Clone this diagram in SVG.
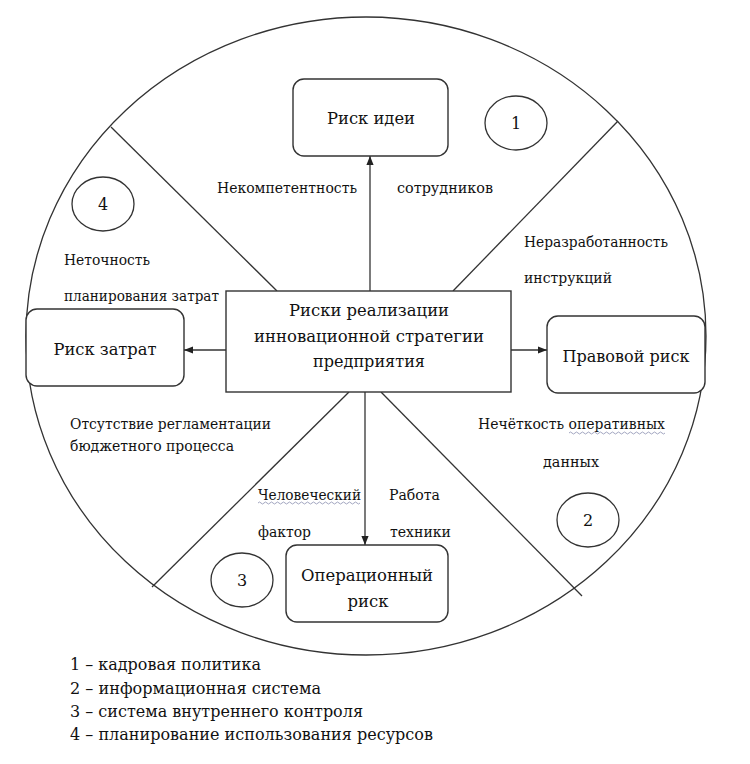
<svg xmlns="http://www.w3.org/2000/svg" width="750" height="764" viewBox="0 0 750 764">
<defs>
<marker id="ah" viewBox="0 0 10 10" refX="10" refY="5" markerWidth="9" markerHeight="9" markerUnits="userSpaceOnUse" orient="auto">
<path d="M0,1 L10,5 L0,9 Z" fill="#222"/>
</marker>
</defs>
<rect width="750" height="764" fill="#fff"/>
<g id="circle-frame" fill="none" stroke="#333" stroke-width="1.3">
<ellipse cx="366" cy="336" rx="340" ry="319"/>
<line x1="111" y1="127" x2="277" y2="291"/>
<line x1="618" y1="121" x2="453" y2="291"/>
<line x1="349" y1="392" x2="152" y2="587"/>
<line x1="381" y1="392" x2="582" y2="596"/>
</g>
<g id="connectors" fill="none" stroke="#333" stroke-width="1.3">
<line x1="370" y1="291" x2="370" y2="156" marker-end="url(#ah)"/>
<line x1="226" y1="350" x2="184" y2="350" marker-end="url(#ah)"/>
<line x1="511" y1="350" x2="547" y2="350" marker-end="url(#ah)"/>
<line x1="365" y1="392" x2="365" y2="545" marker-end="url(#ah)"/>
</g>
<g font-family="DejaVu Serif" fill="#111">
<g id="node-center">
<rect x="226" y="291" width="285" height="101" fill="#fff" stroke="#333" stroke-width="1.4"/>
<text font-size="17" text-anchor="middle" x="369" y="316" textLength="160" lengthAdjust="spacingAndGlyphs">Риски реализации</text>
<text font-size="17" text-anchor="middle" x="369" y="342" textLength="230" lengthAdjust="spacingAndGlyphs">инновационной стратегии</text>
<text font-size="17" text-anchor="middle" x="369" y="367" textLength="112" lengthAdjust="spacingAndGlyphs">предприятия</text>
</g>
<g id="node-idea">
<rect x="293" y="79" width="155" height="77" rx="11" fill="#fff" stroke="#333" stroke-width="1.4"/>
<text font-size="17" text-anchor="middle" x="371" y="124" textLength="88" lengthAdjust="spacingAndGlyphs">Риск идеи</text>
</g>
<g id="node-cost">
<rect x="26" y="309" width="158" height="77" rx="11" fill="#fff" stroke="#333" stroke-width="1.4"/>
<text font-size="17" text-anchor="middle" x="105" y="355" textLength="103" lengthAdjust="spacingAndGlyphs">Риск затрат</text>
</g>
<g id="node-legal">
<rect x="547" y="316" width="158" height="77" rx="11" fill="#fff" stroke="#333" stroke-width="1.4"/>
<text font-size="17" text-anchor="middle" x="626" y="362" textLength="127" lengthAdjust="spacingAndGlyphs">Правовой риск</text>
</g>
<g id="node-oper">
<rect x="286" y="545" width="162" height="77" rx="11" fill="#fff" stroke="#333" stroke-width="1.4"/>
<text font-size="17" text-anchor="middle" x="367" y="581" textLength="132" lengthAdjust="spacingAndGlyphs">Операционный</text>
<text font-size="17" text-anchor="middle" x="368" y="607" textLength="41" lengthAdjust="spacingAndGlyphs">риск</text>
</g>
<g id="num-1"><ellipse cx="516" cy="123" rx="31" ry="27" fill="none" stroke="#333" stroke-width="1.3"/><text font-size="16" text-anchor="middle" x="516" y="129">1</text></g>
<g id="num-2"><ellipse cx="588" cy="520" rx="31" ry="27" fill="none" stroke="#333" stroke-width="1.3"/><text font-size="16" text-anchor="middle" x="588" y="526">2</text></g>
<g id="num-3"><ellipse cx="242" cy="580" rx="31" ry="27" fill="none" stroke="#333" stroke-width="1.3"/><text font-size="16" text-anchor="middle" x="242" y="586">3</text></g>
<g id="num-4"><ellipse cx="103" cy="204" rx="31" ry="27" fill="none" stroke="#333" stroke-width="1.3"/><text font-size="16" text-anchor="middle" x="103" y="210">4</text></g>
<g id="labels" font-size="15" lengthAdjust="spacingAndGlyphs">
<text x="217" y="193" textLength="140" lengthAdjust="spacingAndGlyphs">Некомпетентность</text>
<text x="397" y="193" textLength="96" lengthAdjust="spacingAndGlyphs">сотрудников</text>
<text x="524" y="247" textLength="144" lengthAdjust="spacingAndGlyphs">Неразработанность</text>
<text x="524" y="283" textLength="88" lengthAdjust="spacingAndGlyphs">инструкций</text>
<text x="64" y="265" textLength="86" lengthAdjust="spacingAndGlyphs">Неточность</text>
<text x="64" y="301" textLength="155" lengthAdjust="spacingAndGlyphs">планирования затрат</text>
<text x="70" y="429" textLength="201" lengthAdjust="spacingAndGlyphs">Отсутствие регламентации</text>
<text x="70" y="451" textLength="164" lengthAdjust="spacingAndGlyphs">бюджетного процесса</text>
<text x="478" y="429" textLength="187" lengthAdjust="spacingAndGlyphs">Нечёткость оперативных</text>
<text x="543" y="467" textLength="56" lengthAdjust="spacingAndGlyphs">данных</text>
<text x="258" y="500" textLength="103" lengthAdjust="spacingAndGlyphs">Человеческий</text>
<text x="258" y="537" textLength="53" lengthAdjust="spacingAndGlyphs">фактор</text>
<text x="389" y="500" textLength="51" lengthAdjust="spacingAndGlyphs">Работа</text>
<text x="390" y="537" textLength="61" lengthAdjust="spacingAndGlyphs">техники</text>
</g>
<g id="legend" font-size="17">
<text x="70" y="670" textLength="191" lengthAdjust="spacingAndGlyphs">1 – кадровая политика</text>
<text x="70" y="694" textLength="251" lengthAdjust="spacingAndGlyphs">2 – информационная система</text>
<text x="70" y="717" textLength="293" lengthAdjust="spacingAndGlyphs">3 – система внутреннего контроля</text>
<text x="70" y="740" textLength="363" lengthAdjust="spacingAndGlyphs">4 – планирование использования ресурсов</text>
</g>
</g>
<g id="squiggles" fill="none" stroke="#8a8fb0" stroke-width="0.8">
<path d="M569,433 q1.5,-2 3,0 t3,0 t3,0 t3,0 t3,0 t3,0 t3,0 t3,0 t3,0 t3,0 t3,0 t3,0 t3,0 t3,0 t3,0 t3,0 t3,0 t3,0 t3,0 t3,0 t3,0 t3,0 t3,0 t3,0 t3,0 t3,0 t3,0 t3,0 t3,0 t3,0 t3,0 t3,0"/>
<path d="M258,503 q1.5,-2 3,0 t3,0 t3,0 t3,0 t3,0 t3,0 t3,0 t3,0 t3,0 t3,0 t3,0 t3,0 t3,0 t3,0 t3,0 t3,0 t3,0 t3,0 t3,0 t3,0 t3,0 t3,0 t3,0 t3,0 t3,0 t3,0 t3,0 t3,0 t3,0 t3,0 t3,0 t3,0 t3,0 t3,0"/>
</g>
</svg>
